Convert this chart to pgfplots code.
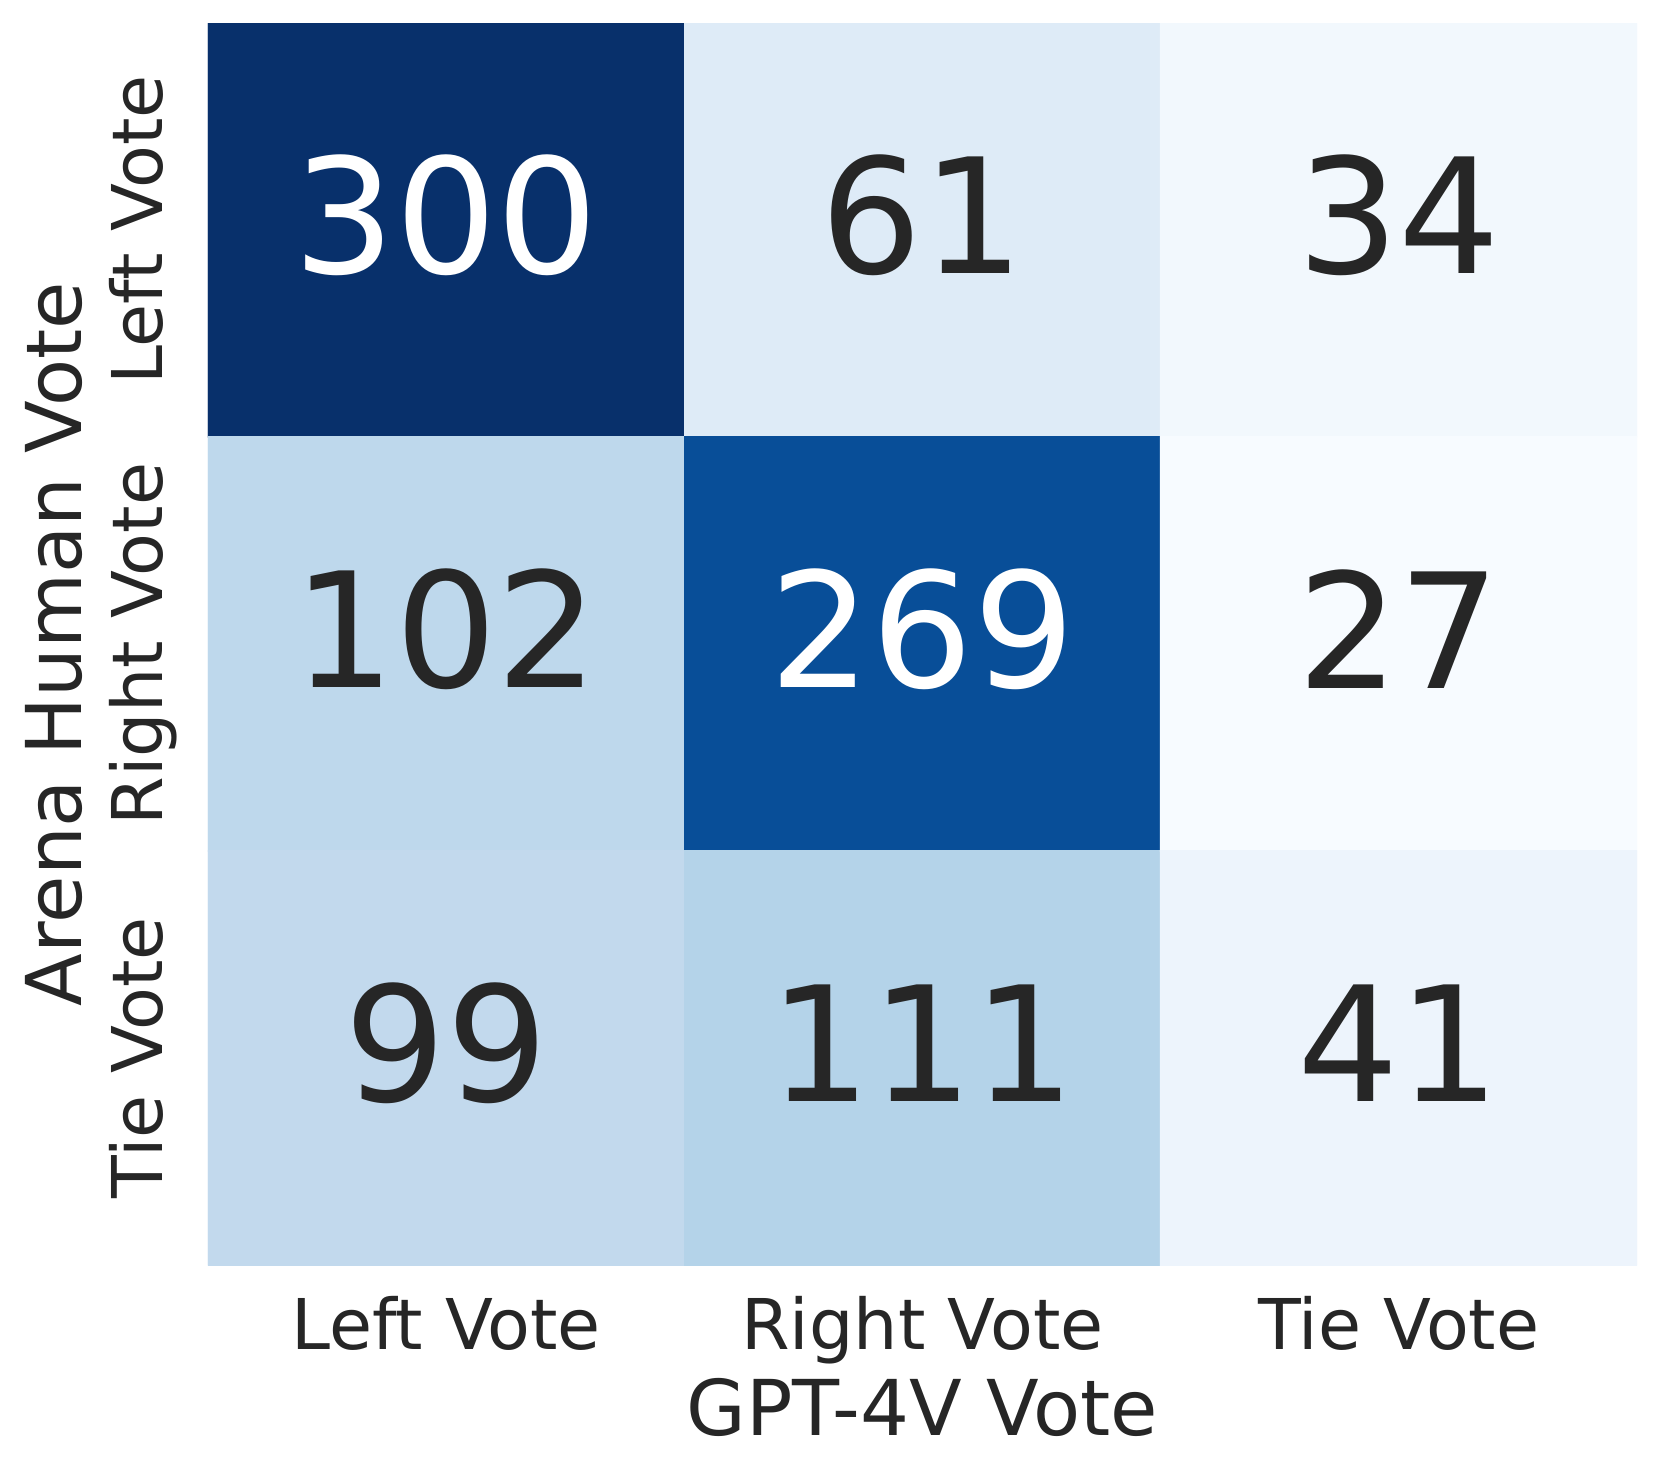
\documentclass[border=0pt]{standalone}
\usepackage{fontspec}
\setmainfont{DejaVu Sans}
\usepackage{pgfplots}
\pgfplotsset{compat=1.18}
\definecolor{cText}{HTML}{262626}

% matplotlib "Blues"
\pgfplotsset{colormap={Blues}{
  rgb255(0)=(247,251,255) rgb255(1)=(222,235,247) rgb255(2)=(198,219,239)
  rgb255(3)=(158,202,225) rgb255(4)=(107,174,214) rgb255(5)=(66,146,198)
  rgb255(6)=(33,113,181)  rgb255(7)=(8,81,156)    rgb255(8)=(8,48,107)}}

\pgfplotstableread{
x y c
0 0 300
1 0 61
2 0 34
0 1 102
1 1 269
2 1 27
0 2 99
1 2 111
2 2 41
}\cells

\begin{document}
\begin{tikzpicture}
\useasboundingbox (-52pt,-52.25pt) rectangle (363pt,316.25pt);
\begin{axis}[
  at={(0,0)}, anchor=south west,
  width=357.25pt, height=310.5pt, scale only axis,
  xmin=-0.5, xmax=2.5, ymin=-0.5, ymax=2.5,
  y dir=reverse,
  colormap name=Blues, point meta min=27, point meta max=300,
  axis line style={draw=none}, major tick length=0pt,
  xtick={0,1,2}, ytick={0,1,2},
  xticklabels={Left Vote, Right Vote, Tie Vote},
  yticklabels={Left Vote, Right Vote, Tie Vote},
  xticklabel style={font=\fontsize{17.5}{21}\selectfont, text=cText, inner sep=0pt, anchor=north, yshift=-7.75pt},
  yticklabel style={font=\fontsize{17.5}{21}\selectfont, text=cText, inner sep=0pt, anchor=base, xshift=-11.25pt, rotate=90},
  every axis x label/.style={at={(axis description cs:0.5,0)}, anchor=north, inner sep=0pt, yshift=-28.25pt,
    font=\fontsize{19.25}{23}\selectfont, text=cText},
  every axis y label/.style={at={(axis description cs:0,0.5)}, anchor=base, inner sep=0pt, xshift=-31.5pt, rotate=90,
    font=\fontsize{19.25}{23}\selectfont, text=cText},
  xlabel={GPT-4V Vote}, ylabel={Arena Human Vote},
  nodes near coords align={center},
]
\addplot[matrix plot*, mesh/cols=3, point meta=explicit, shader=flat corner] table[x=x, y=y, meta=c] {\cells};
% labels on dark cells
\addplot[only marks, mark=none, point meta=explicit symbolic, nodes near coords,
  every node near coord/.style={anchor=center, yshift=3.75pt, text=white, font=\fontsize{40}{48}\selectfont}]
  coordinates {(0,0)[300] (1,1)[269]};
% labels on light cells
\addplot[only marks, mark=none, point meta=explicit symbolic, nodes near coords,
  every node near coord/.style={anchor=center, yshift=3.75pt, text=cText, font=\fontsize{40}{48}\selectfont}]
  coordinates {(1,0)[61] (2,0)[34] (0,1)[102] (2,1)[27] (0,2)[99] (1,2)[111] (2,2)[41]};
\end{axis}
\end{tikzpicture}
\end{document}
